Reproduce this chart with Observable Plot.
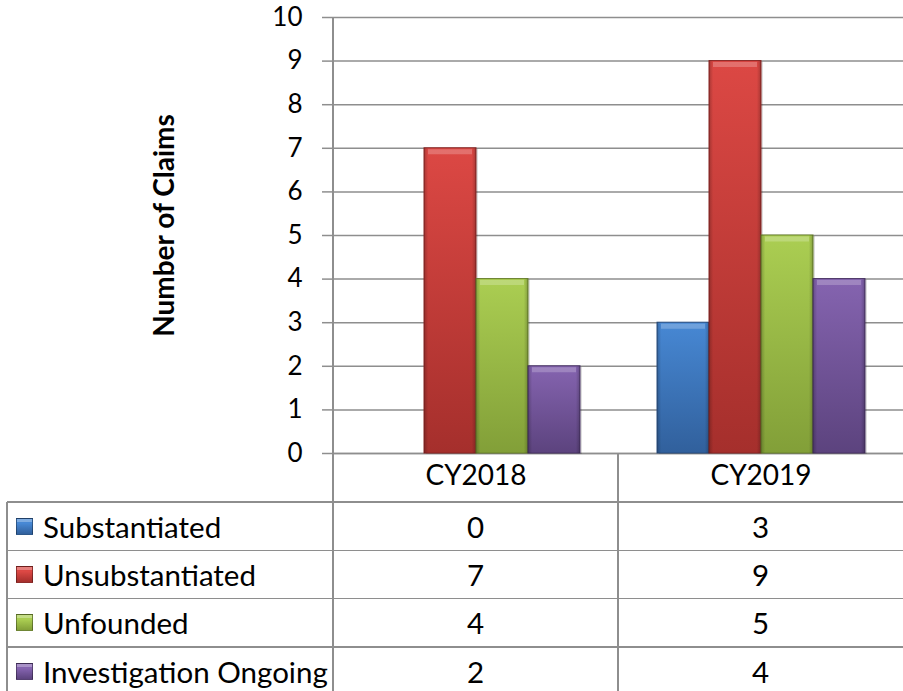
<!DOCTYPE html>
<html><head><meta charset="utf-8">
<script src="https://cdn.jsdelivr.net/npm/d3@7"></script>
<script src="https://cdn.jsdelivr.net/npm/@observablehq/plot@0.6"></script>
<style>
body{margin:0;background:#fff;}
#wrap{position:relative;width:903px;height:691px;overflow:hidden;font-family:Lato,sans-serif;background:#fff;}
#wrap svg{position:absolute;left:0;top:0;z-index:2;}
.ln{position:absolute;background:#8e8e8e;z-index:1;}
.cell{position:absolute;box-sizing:border-box;display:flex;align-items:center;font-size:29.5px;color:#000;z-index:3;white-space:nowrap;}
.sw{display:inline-block;width:17px;height:17px;box-sizing:border-box;margin-right:10px;border:1px solid rgba(0,0,0,0.35);}
</style></head><body><div id="wrap"></div>
<script>
// ---- data ----
const years = ["CY2018", "CY2019"];
const seriesNames = ["Substantiated", "Unsubstantiated", "Unfounded", "Investigation Ongoing"];
const valuesCY2018 = [0, 7, 4, 2];
const valuesCY2019 = [3, 9, 5, 4];
const yTicks = [0, 1, 2, 3, 4, 5, 6, 7, 8, 9, 10];
const yLabel = "Number of Claims";
const topColors = ["#4788d4", "#dc4844", "#abce52", "#8564b0"];
const bottomColors = ["#31609c", "#a52f2c", "#829f38", "#5c437e"];
const edgeColors = ["#2b4f80", "#8a2624", "#6a822d", "#4a3566"];

const valueTable = {CY2018: valuesCY2018, CY2019: valuesCY2019};
const rows = years.flatMap(y => seriesNames.map((s, i) => ({year: y, series: s, idx: i, value: valueTable[y][i]})));
const drawn = rows.filter(d => d.value > 0);
const yMid = (yTicks[0] + yTicks[yTicks.length - 1]) / 2;

const plot = Plot.plot({
  width: 903, height: 502,
  marginLeft: 333, marginRight: 0, marginTop: 17, marginBottom: 49,
  style: {fontFamily: "Lato, sans-serif", fontSize: "26px", background: "transparent", color: "#000", overflow: "visible"},
  fx: {domain: years, padding: 0, label: null},
  x: {domain: seriesNames, paddingInner: 0, paddingOuter: 0.74, axis: null},
  y: {domain: [0, 10], label: null},
  marks: [
    Plot.gridY(yTicks, {stroke: "#8e8e8e", strokeOpacity: 1, strokeWidth: 1.5}),
    Plot.ruleY([0], {stroke: "#8e8e8e", strokeWidth: 1.5}),
    Plot.axisY(yTicks, {tickSize: 11, tickFormat: () => "", stroke: "#8e8e8e", strokeWidth: 1.5, label: null}),
    Plot.text(yTicks, {y: d => d, text: d => String(d), frameAnchor: "left", textAnchor: "end", dx: -31, fontSize: 26, fill: "#000", facetAnchor: "left"}),
    Plot.text([yLabel], {y: () => yMid, text: d => d, frameAnchor: "left", textAnchor: "middle", dx: -168, dy: -10, rotate: -90, fontSize: 28, fontWeight: "bold", fill: "#000", facetAnchor: "left"}),
    Plot.axisFx({anchor: "bottom", tickSize: 0, tickPadding: 12, fontSize: 28, fill: "#000", label: null}),
    Plot.barY(drawn, {fx: "year", x: "series", y: "value", fill: "#000", fillOpacity: 0.13, dx: 2, dy: 1}),
    ...seriesNames.map((s, i) => Plot.barY(drawn.filter(d => d.idx === i), {
      fx: "year", x: "series", y: "value", fill: `url(#grad${i})`, stroke: edgeColors[i], strokeWidth: 1
    })),
    Plot.barY(drawn, {fx: "year", x: "series", y: "value", fill: "url(#sides)"}),
    Plot.tickY(drawn, {fx: "year", x: "series", y: "value", dy: 3.5, strokeWidth: 5, stroke: "#fff", strokeOpacity: 0.22, insetLeft: 4, insetRight: 4})
  ]
});

let defs = "";
topColors.forEach((c, i) => {
  defs += `<linearGradient id="grad${i}" x1="0" y1="0" x2="0" y2="1"><stop offset="0" stop-color="${c}"/><stop offset="1" stop-color="${bottomColors[i]}"/></linearGradient>`;
});
defs += `<linearGradient id="sides" x1="0" y1="0" x2="1" y2="0">
<stop offset="0" stop-color="#000" stop-opacity="0.22"/><stop offset="0.08" stop-color="#000" stop-opacity="0"/>
<stop offset="0.92" stop-color="#000" stop-opacity="0"/><stop offset="1" stop-color="#000" stop-opacity="0.22"/></linearGradient>`;
const defsEl = document.createElementNS("http://www.w3.org/2000/svg", "defs");
defsEl.innerHTML = defs;
plot.insertBefore(defsEl, plot.firstChild);

const wrap = document.getElementById("wrap");
wrap.appendChild(plot);

// ---- data table below the plot ----
const fx = plot.scale("fx");
const colStart = years.map(y => fx.apply(y));
const bw = fx.bandwidth;
const plotLeft = colStart[0];
const plotRight = colStart[colStart.length - 1] + bw;
const yScale = plot.scale("y");
const plotTop = yScale.apply(10);
const baseY = yScale.apply(0);
const headerH = 49, rowH = 48.3, leftEdge = 7;
const tableTop = baseY + headerH;

function line(x, y, w, h) {
  const d = document.createElement("div");
  d.className = "ln";
  Object.assign(d.style, {left: x + "px", top: y + "px", width: w + "px", height: h + "px"});
  wrap.appendChild(d);
}
// axis line and column separators
line(plotLeft - 0.75, plotTop, 1.5, 691 - plotTop);
colStart.slice(1).forEach(x => line(x - 0.75, baseY, 1.5, 691 - baseY));
line(leftEdge - 0.75, tableTop, 1.5, 691 - tableTop);
seriesNames.forEach((s, i) => line(leftEdge, tableTop + i * rowH - 0.75, plotRight - leftEdge, 1.5));

seriesNames.forEach((s, i) => {
  const top = tableTop + i * rowH;
  const lab = document.createElement("div");
  lab.className = "cell";
  Object.assign(lab.style, {left: (leftEdge + 9) + "px", top: top + "px", height: rowH + "px"});
  const sw = document.createElement("span");
  sw.className = "sw";
  sw.style.background = `linear-gradient(to bottom, ${topColors[i]} 0%, ${topColors[i]} 30%, ${bottomColors[i]} 100%)`;
  sw.style.boxShadow = "inset 0 3px 0 rgba(255,255,255,0.3)";
  lab.appendChild(sw);
  lab.appendChild(document.createTextNode(s));
  wrap.appendChild(lab);
  years.forEach((y, j) => {
    const c = document.createElement("div");
    c.className = "cell";
    Object.assign(c.style, {left: colStart[j] + "px", top: top + "px", width: bw + "px", height: rowH + "px", justifyContent: "center"});
    c.textContent = String(valueTable[y][i]);
    wrap.appendChild(c);
  });
});
</script></body></html>
